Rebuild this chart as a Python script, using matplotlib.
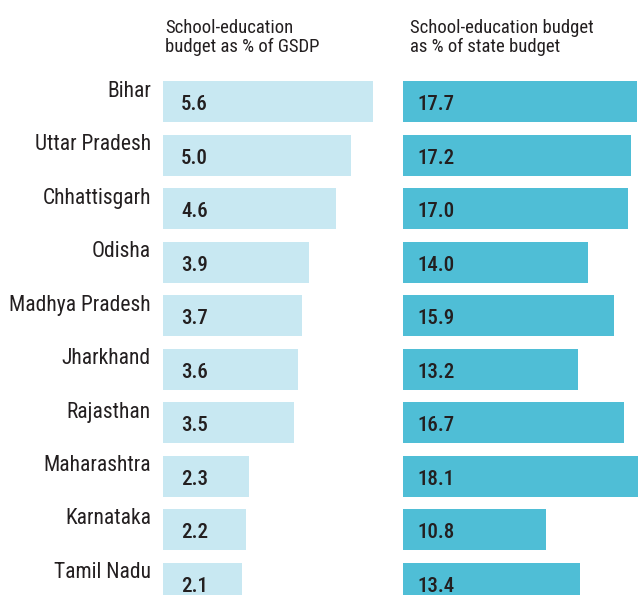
import matplotlib.pyplot as plt

# Daten
states = ["Bihar", "Uttar Pradesh", "Chhattisgarh", "Odisha", "Madhya Pradesh",
          "Jharkhand", "Rajasthan", "Maharashtra", "Karnataka", "Tamil Nadu"]
pct_gsdp = [5.6, 5.0, 4.6, 3.9, 3.7, 3.6, 3.5, 2.3, 2.2, 2.1]
pct_budget = [17.7, 17.2, 17.0, 14.0, 15.9, 13.2, 16.7, 18.1, 10.8, 13.4]
title_left = "School-education\nbudget as % of GSDP"
title_right = "School-education budget\nas % of state budget"

plt.rcParams["font.family"] = ["Roboto Condensed", "DejaVu Sans"]

W, H = 638, 595
fig = plt.figure(figsize=(W / 100, H / 100), dpi=100)

pitch = 53.5
first = 101.5
y_top = -first / pitch
y_bot = (H - first) / pitch

ax1 = fig.add_axes([163 / W, 0, 230 / W, 1])
ax2 = fig.add_axes([403 / W, 0, 235 / W, 1])
ax1.set_xlim(0, 230 / 37.5)
ax2.set_xlim(0, 235 / 13.24)

pos = list(range(len(states)))
ax1.barh(pos, pct_gsdp, height=41 / pitch, color="#c8e8f2")
ax2.barh(pos, pct_budget, height=41 / pitch, color="#4fbed6")

for ax in (ax1, ax2):
    ax.set_ylim(y_bot, y_top)
    ax.axis("off")

txt = "#231f20"
pt = 0.72  # px -> pt
for i, (s, a, b) in enumerate(zip(states, pct_gsdp, pct_budget)):
    ax1.annotate(s, (0, i), xytext=(-12 * pt, 10.5 * pt), textcoords="offset points",
                 ha="right", va="center", fontsize=15.5, color=txt)
    ax1.annotate(f"{a:.1f}", (0, i), xytext=(18 * pt, -3 * pt), textcoords="offset points",
                 ha="left", va="center", fontsize=15, fontweight="medium", color=txt)
    ax2.annotate(f"{b:.1f}", (0, i), xytext=(14 * pt, -3 * pt), textcoords="offset points",
                 ha="left", va="center", fontsize=15, fontweight="medium", color=txt)

fig.text(165 / W, 1 - 19 / H, title_left, ha="left", va="top", fontsize=13.5,
         color=txt, linespacing=1.05)
fig.text(410 / W, 1 - 19 / H, title_right, ha="left", va="top", fontsize=13.5,
         color=txt, linespacing=1.05)

fig.savefig("out.png", dpi=100)
